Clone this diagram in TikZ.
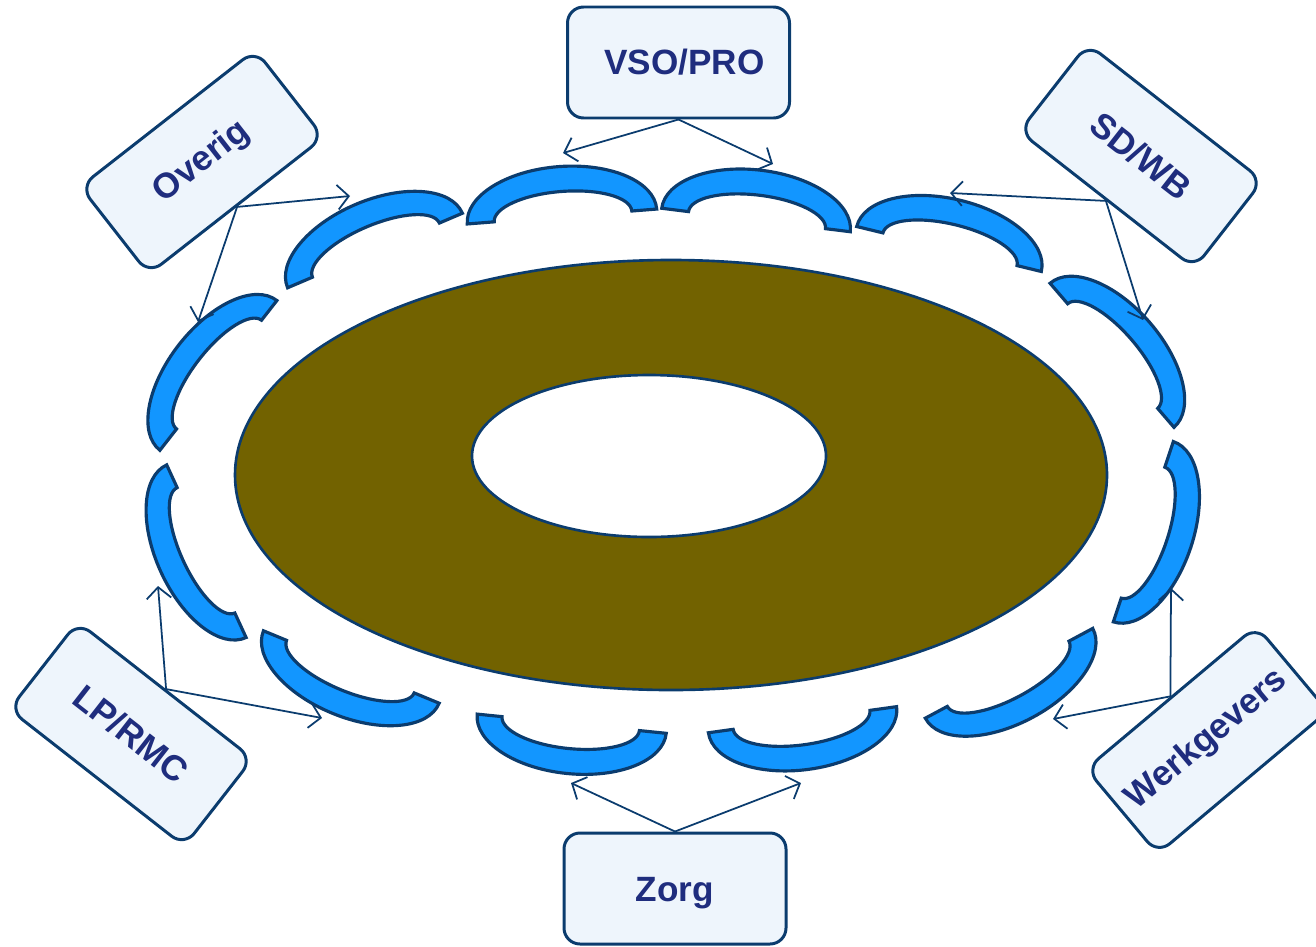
\documentclass[tikz,border=0pt]{standalone}
\usepackage{fontspec}
\setmainfont{Liberation Sans}
\usetikzlibrary{arrows.meta}

\definecolor{segblue}{HTML}{1296FF}
\definecolor{edgeblue}{HTML}{0B3C6E}
\definecolor{ringbrown}{HTML}{726200}
\definecolor{boxfill}{HTML}{EEF5FC}
\definecolor{labelblue}{HTML}{1F2D7E}

\tikzset{
  partner/.style={draw=edgeblue,line width=0.85pt,fill=boxfill,rounded corners=1.6mm,
    minimum width=22.2mm,minimum height=11.1mm,text=labelblue,
    font=\bfseries\fontsize{10}{12}\selectfont},
  link/.style={draw=edgeblue,line width=0.5pt,-{Straight Barb[length=3.2pt,width=7pt]}},
  arcseg/.pic={
    \draw[draw=edgeblue,line width=0.9pt,fill=segblue,line join=miter]
      (-95,0) arc[start angle=180,end angle=0,x radius=95,y radius=50] -- (70,0)
      arc[start angle=0,end angle=180,x radius=69,y radius=25] -- cycle;
  }
}

\begin{document}
\begin{tikzpicture}[line cap=round,line join=round,x=0.1mm,y=0.1mm]

\useasboundingbox (0,0) rectangle (1316,-946);
%% ring
\draw [edgeblue,line width=0.75pt,fill=ringbrown] (671,-475) ellipse [x radius=436,y radius=215];
\draw [edgeblue,line width=0.75pt,fill=white] (649,-456) ellipse [x radius=177,y radius=81];
%% segments round the ring
\foreach \x/\y/\a in {562/216.5/4.5, 756/220/-7.1, 375/250.5/23.1, 949/249/-13.7,
    218.4/375.4/52, 1112/355.3/-49.3, 206.4/551.2/114.7, 1143.3/531.7/-108.4,
    351.3/667/157.6, 1009/673.3/208.2, 571.7/723.7/174.2, 802.5/719.7/187.9}
  \pic [rotate=\a] at (\x,-\y) {arcseg};
%% partners
\node [partner] (vso) at (678.5,-62.5) {\hspace{1.2mm}VSO/PRO};
\node [partner] (zorg) at (675,-888.5) {\raisebox{-0.5mm}[\height][\depth]{Zorg}};
\node [partner,rotate=38] (overig) at (202,-162) {Overig};
\node [partner,rotate=-38] (sdwb) at (1141,-156) {SD/WB};
\node [partner,rotate=-38] (lprmc) at (131,-734) {LP/RMC};
\node [partner,rotate=40] (werk) at (1207,-740) {Werkgevers};
%% arrow ends
\coordinate (vsoL) at (563,-153);
\coordinate (vsoR) at (773,-164);
\coordinate (ovA) at (350,-196);
\coordinate (ovB) at (198,-322);
\coordinate (sdA) at (950,-193);
\coordinate (sdB) at (1143,-320);
\coordinate (lpA) at (158,-586);
\coordinate (lpB) at (322,-718);
\coordinate (wgA) at (1171,-588);
\coordinate (wgB) at (1053,-719);
\coordinate (zoA) at (571,-783);
\coordinate (zoB) at (801,-783);
%%
\draw [link] (vso.south) -- (vsoL);
\draw [link] (vso.south) -- (vsoR);
\draw [link] (overig.south) -- (ovA);
\draw [link] (overig.south) -- (ovB);
\draw [link] (sdwb.south) -- (sdA);
\draw [link] (sdwb.south) -- (sdB);
\draw [link] (lprmc.north) -- (lpA);
\draw [link] (lprmc.north) -- (lpB);
\draw [link] (werk.north) -- (wgA);
\draw [link] (werk.north) -- (wgB);
\draw [link] (zorg.north) -- (zoA);
\draw [link] (zorg.north) -- (zoB);
%%
\end{tikzpicture}
\end{document}
